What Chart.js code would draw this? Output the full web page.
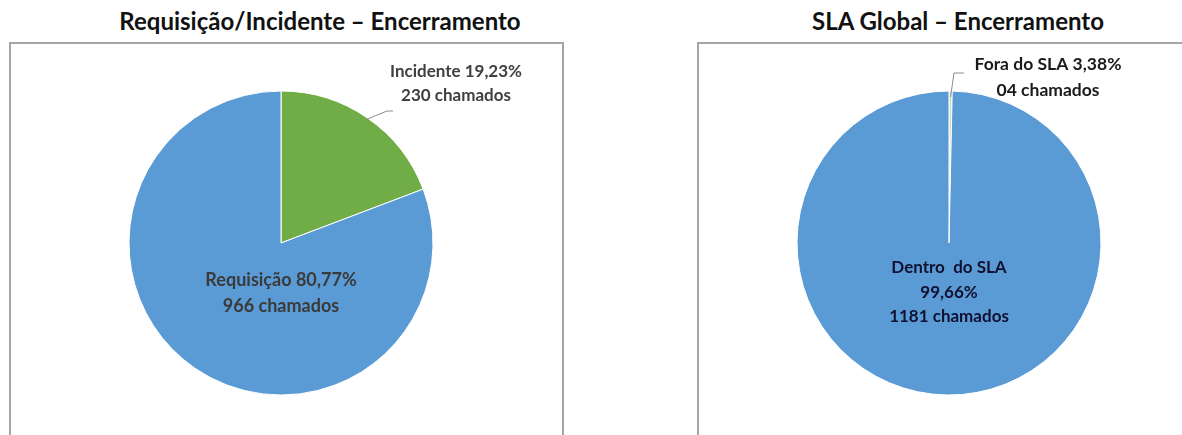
<!DOCTYPE html>
<html>
<head>
<meta charset="utf-8">
<script src="https://cdn.jsdelivr.net/npm/chart.js@4"></script>
<style>
  body{margin:0;width:1182px;height:435px;overflow:hidden;background:#fff;position:relative;font-family:Lato,"Open Sans",sans-serif}
  .box{position:absolute;top:42px;height:420px;border:2px solid #a6a6a6;border-bottom:none;box-sizing:border-box}
  .ttl{position:absolute;top:6px;font-weight:bold;font-size:24px;color:#111;white-space:nowrap;transform:translateX(-50%)}
  canvas{position:absolute;top:0}
</style>
</head>
<body>
<div class="box" style="left:9px;width:555px"></div>
<div class="box" style="left:697px;width:600px"></div>
<div class="ttl" style="left:320px">Requisição/Incidente – Encerramento</div>
<div class="ttl" style="left:958px">SLA Global – Encerramento</div>
<canvas id="c1" width="591" height="435" style="left:0"></canvas>
<canvas id="c2" width="591" height="435" style="left:591px"></canvas>
<script>
// chart 1: tipo de chamado
const tipoLabels=['Incidente','Requisição'];
const tipoValues=[230,966];
const tipoPct=['19,23%','80,77%'];
// chart 2: SLA global
const slaLabels=['Fora do SLA','Dentro  do SLA'];
const slaValues=[4,1181];
const slaPct=['3,38%','99,66%'];
const slaQtd=['04','1181'];

// text lines per slice, with placement relative to the pie centre
const labelPlugin={
  id:'sliceLabels',
  afterDatasetsDraw(chart,args,opts){
    const ctx=chart.ctx; const meta=chart.getDatasetMeta(0);
    meta.data.forEach((arc,i)=>{
      const cfg=opts.items[i]; if(!cfg) return;
      const cx=arc.x, cy=arc.y;
      ctx.save();
      if(cfg.leader){
        const mid=(arc.startAngle+arc.endAngle)/2;
        const r=arc.outerRadius+cfg.leader.r0;
        ctx.strokeStyle='#8c8c8c'; ctx.lineWidth=1;
        ctx.beginPath();
        ctx.moveTo(cx+Math.cos(mid)*r,cy+Math.sin(mid)*r);
        ctx.lineTo(cx+cfg.leader.ex,cy+cfg.leader.ey);
        ctx.lineTo(cx+cfg.leader.ex+cfg.leader.h,cy+cfg.leader.ey);
        ctx.stroke();
      }
      ctx.fillStyle=cfg.color; ctx.font='bold '+cfg.size+'px Lato';
      ctx.textAlign='center'; ctx.textBaseline='middle';
      cfg.lines.forEach((t,k)=>ctx.fillText(t,cx+cfg.dx,cy+cfg.dy+k*cfg.lh));
      ctx.restore();
    });
  }
};

new Chart(document.getElementById('c1'),{
  type:'pie',
  data:{labels:tipoLabels,datasets:[{data:tipoValues,backgroundColor:['#70ad47','#5b9bd5'],borderColor:'#fff',borderWidth:1,radius:152}]},
  options:{
    responsive:false,animation:false,devicePixelRatio:1,
    layout:{padding:{left:129,right:158,top:91,bottom:40}},
    plugins:{legend:{display:false},tooltip:{enabled:false},
      sliceLabels:{items:[
        {lines:[tipoLabels[0]+' '+tipoPct[0],tipoValues[0]+' chamados'],dx:175,dy:-171,lh:24,size:17,color:'#404040',leader:{r0:-2,ex:106,ey:-132,h:6}},
        {lines:[tipoLabels[1]+' '+tipoPct[1],tipoValues[1]+' chamados'],dx:0,dy:37,lh:26,size:18,color:'#3a3a3a'}
      ]}}
  },
  plugins:[labelPlugin]
});

new Chart(document.getElementById('c2'),{
  type:'pie',
  data:{labels:slaLabels,datasets:[{data:slaValues,backgroundColor:['#c5e0b4','#5b9bd5'],borderColor:'#fff',borderWidth:1,radius:152}]},
  options:{
    responsive:false,animation:false,devicePixelRatio:1,
    layout:{padding:{left:206,right:81,top:91,bottom:40}},
    plugins:{legend:{display:false},tooltip:{enabled:false},
      sliceLabels:{items:[
        {lines:[slaLabels[0]+' '+slaPct[0],slaQtd[0]+' chamados'],dx:99,dy:-179,lh:26,size:17.5,color:'#1a1a1a',leader:{r0:-6,ex:5,ey:-170,h:10}},
        {lines:[slaLabels[1],slaPct[1],slaQtd[1]+' chamados'],dx:0,dy:25,lh:24.5,size:17,color:'#101030'}
      ]}}
  },
  plugins:[labelPlugin]
});
</script>
</body>
</html>
